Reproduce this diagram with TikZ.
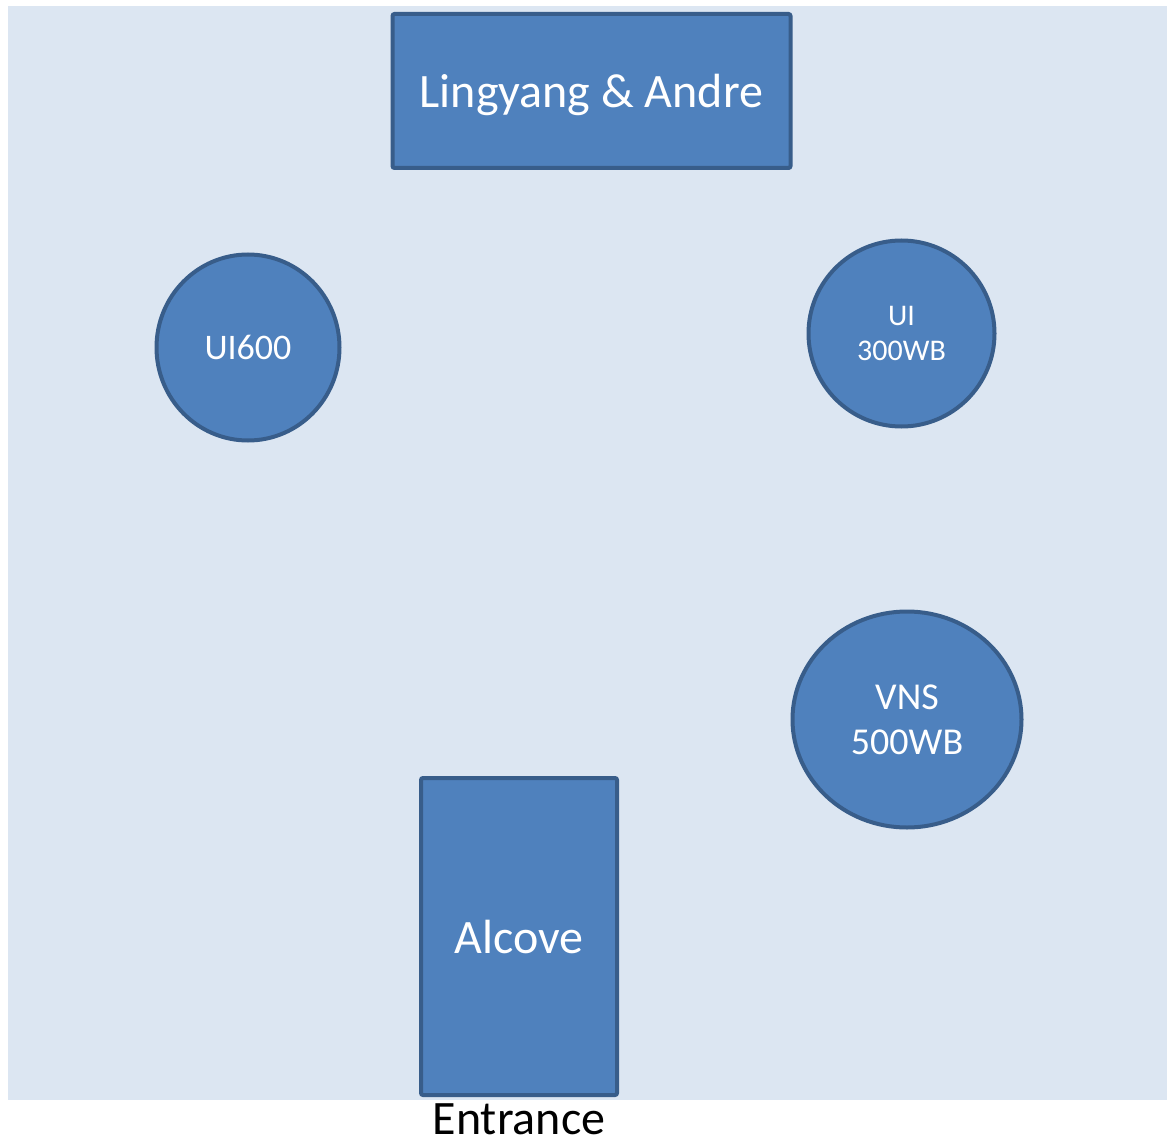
\documentclass[tikz,border=0pt]{standalone}
\usepackage{fontspec}
\setmainfont{Carlito}
\usetikzlibrary{shapes.geometric}
\definecolor{bgblue}{HTML}{DCE6F2}
\definecolor{fillblue}{HTML}{4F81BD}
\definecolor{edgeblue}{HTML}{385D8A}
\tikzset{
  item/.style={draw=edgeblue, fill=fillblue, line width=4pt, text=white, inner sep=0pt, outer sep=0pt},
  tablebox/.style={item, rectangle, rounded corners=2pt},
  roundtable/.style={item, ellipse, align=center},
}
\begin{document}
\begin{tikzpicture}[x=1pt,y=-1pt]
\useasboundingbox (0,0) rectangle (1167,1142);
\fill[bgblue] (8,6) rectangle (1167,1100);
\node[tablebox, minimum width=398pt, minimum height=154pt, text depth=0pt, font=\fontsize{48}{56}\selectfont] (lingyang) at (591.5,91) {Lingyang \& Andre};
\node[tablebox, minimum width=196pt, minimum height=317pt, font=\fontsize{48}{56}\selectfont] (alcove) at (519,936.5) {Alcove};
\node[roundtable, minimum width=183pt, minimum height=186pt, font=\fontsize{36}{44}\selectfont] (ui600) at (248,347.5) {UI600};
\node[roundtable, minimum width=186pt, minimum height=186pt, font=\fontsize{30}{35}\selectfont] (ui300) at (901.5,333.5) {UI\\300WB};
\node[roundtable, minimum width=229pt, minimum height=216pt, font=\fontsize{38}{45}\selectfont] (vns) at (907,719.5) {VNS\\500WB};
\node[anchor=base, inner sep=0pt, font=\fontsize{48}{56}\selectfont] (entrance) at (519,1134) {Entrance};
\end{tikzpicture}
\end{document}
